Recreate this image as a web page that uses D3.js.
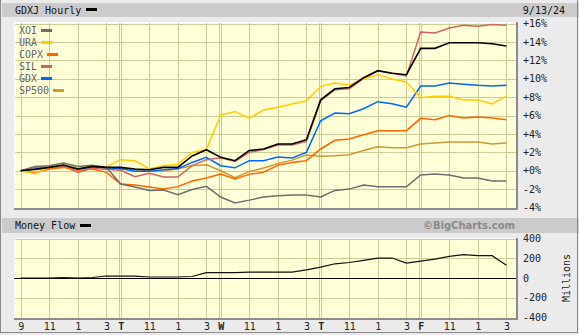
<!DOCTYPE html>
<html>
<head>
<meta charset="utf-8">
<script src="https://cdn.jsdelivr.net/npm/d3@7"></script>
<style>
body { margin: 0; background: #ebebeb; }
svg { display: block; font-family: "DejaVu Sans Mono", monospace; }
.axis path { display: none; }
.axis text { font-family: "DejaVu Sans Mono", monospace; font-size: 10px; fill: #222; }
</style>
</head>
<body>
<div id="chart"></div>
<script>
// hourly bars, Mon 9am .. Fri 3pm (7 per day)
var dayLetters = ["M", "T", "W", "T", "F"];
var hourLabels = ["9", "10", "11", "12", "1", "2", "3"];

var seriesNames = ["XOI", "URA", "COPX", "SIL", "GDX", "SP500"];
var seriesColors = ["#6e6e6e", "#ffcc00", "#ff6600", "#cc6666", "#0066ff", "#cc9933"];

var xoi = [0, 0.47, 0.54, 0.83, 0.47, 0.58, 0.36, -1.45, -1.77, -2.14, -2.1, -2.62, -2.05, -1.7, -2.86, -3.5, -3.2, -2.86, -2.72, -2.65, -2.65, -2.86, -2.14, -2.0, -1.56, -1.74, -1.74, -1.74, -0.47, -0.36, -0.47, -0.8, -0.8, -1.12, -1.12];
var ura = [0, -0.33, 0.36, 0.62, 0.29, 0.54, 0.4, 1.2, 1.09, 0.2, 0.56, 0.68, 1.99, 2.32, 6.05, 6.43, 5.7, 6.6, 6.9, 7.25, 7.6, 9.17, 9.53, 9.3, 10.0, 10.43, 9.96, 9.64, 7.93, 8.08, 8.08, 7.68, 7.68, 7.25, 8.08];
var copx = [0, -0.25, 0.18, 0.36, 0.04, 0.18, -0.18, -1.45, -1.55, -1.78, -1.98, -1.73, -1.12, -0.8, -0.35, -0.9, -0.4, -0.16, 0.58, 0.9, 1.09, 2.36, 3.3, 3.44, 3.91, 4.35, 4.35, 4.35, 5.69, 5.54, 6.0, 5.72, 5.83, 5.72, 5.54];
var sil = [0, 0.36, 0.4, 0.5, -0.18, 0.29, 0.15, 0.04, -0.65, -0.28, -0.69, -0.69, 0.55, 1.2, 1.4, 1.0, 2.0, 2.3, 2.8, 2.8, 3.2, 7.6, 8.8, 8.9, 10.0, 10.85, 10.6, 10.3, 15.07, 14.96, 15.5, 15.8, 15.7, 15.9, 15.8];
var gdx = [0, 0.18, 0.36, 0.54, 0.1, 0.36, 0.3, 0.25, -0.05, -0.05, 0.1, 0.22, 0.9, 1.45, 0.54, 0.31, 1.09, 1.09, 1.49, 1.38, 1.99, 5.43, 6.27, 6.2, 6.74, 7.5, 7.28, 6.9, 9.2, 9.2, 9.53, 9.4, 9.28, 9.2, 9.3];
var sp500 = [0, 0.1, 0.3, 0.4, 0.2, 0.3, 0.2, 0.15, 0.1, -0.07, -0.02, 0.2, 0.54, 0.65, 0.0, -0.75, -0.1, 0.29, 0.76, 1.15, 1.7, 1.56, 1.63, 1.74, 2.2, 2.6, 2.5, 2.5, 2.9, 3.0, 3.12, 3.12, 3.12, 2.9, 3.0];
var gdxj = [0, 0.15, 0.36, 0.62, 0.18, 0.47, 0.36, 0.36, 0.18, 0.1, 0.36, 0.36, 1.6, 2.28, 1.45, 1.09, 2.2, 2.36, 2.9, 2.9, 3.37, 7.7, 8.9, 9.05, 10.1, 10.87, 10.6, 10.43, 13.3, 13.3, 13.9, 13.9, 13.9, 13.8, 13.55];

// money flow, millions
var moneyFlow = [0, 0, 0, 3, 0, 5, 20, 20, 18, 10, 10, 10, 15, 55, 55, 55, 60, 60, 60, 60, 82, 110, 144, 157, 178, 202, 202, 150, 171, 192, 219, 236, 226, 226, 130];

var pctTicks = [-4, -2, 0, 2, 4, 6, 8, 10, 12, 14, 16];
var mfTicks = [-400, -200, 0, 200, 400];

var seriesData = [xoi, ura, copx, sil, gdx, sp500];

var width = 579, height = 335;
var plotL = 14, plotR = 516;
var mainTop = 22, mainBot = 208;
var mfTop = 238, mfBot = 318;
var gridColor = "#cccc99";

var bars = [];
dayLetters.forEach(function(d, di) {
  hourLabels.forEach(function(h) { bars.push(d + " " + h); });
});

var svg = d3.select("#chart").append("svg")
  .attr("width", width)
  .attr("height", height);

svg.append("rect").attr("width", width).attr("height", height).attr("fill", "#ebebeb");

var x = d3.scaleLinear().domain([0, bars.length - 1]).range([20.7, 506.4]);
var y = d3.scaleLinear().domain([-4, 16]).range([207.5, 23.5]);
var yMf = d3.scaleLinear().domain([-400, 400]).range([317.5, 238.5]);

// title bars
svg.append("rect").attr("x", 2).attr("y", 3).attr("width", width - 2).attr("height", 14).attr("fill", "#cbcbcb");
svg.append("rect").attr("x", 2).attr("y", 218).attr("width", width - 2).attr("height", 15).attr("fill", "#cbcbcb");

svg.append("text").attr("x", 15).attr("y", 10).attr("dy", "0.35em")
  .style("font-size", "10px").attr("fill", "#111").text("GDXJ Hourly");
svg.append("rect").attr("x", 86).attr("y", 8).attr("width", 11).attr("height", 3).attr("fill", "#000");
svg.append("text").attr("x", 565).attr("y", 10).attr("dy", "0.35em").attr("text-anchor", "end")
  .style("font-size", "10px").attr("fill", "#111").text("9/13/24");

svg.append("text").attr("x", 15).attr("y", 225.5).attr("dy", "0.35em")
  .style("font-size", "10px").attr("fill", "#111").text("Money Flow");
svg.append("rect").attr("x", 80).attr("y", 224).attr("width", 11).attr("height", 3).attr("fill", "#000");
svg.append("text").attr("x", 515).attr("y", 225.5).attr("dy", "0.35em").attr("text-anchor", "end")
  .style("font-family", "'DejaVu Sans', sans-serif").style("font-size", "10px").style("font-weight", "bold")
  .attr("fill", "#8a8a8a").text("\u00a9BigCharts.com");

// panels
function panel(top, bot, hTicks, yScale) {
  var g = svg.append("g");
  g.append("rect").attr("x", plotL).attr("y", top).attr("width", plotR - plotL).attr("height", bot - top)
    .attr("fill", "#ffffd8");
  hTicks.forEach(function(t) {
    var yy = Math.round(yScale(t)) + 0.5;
    g.append("line").attr("x1", plotL).attr("x2", plotR).attr("y1", yy).attr("y2", yy)
      .attr("stroke", gridColor).attr("stroke-width", 1);
  });
  bars.forEach(function(b, i) {
    var h = i % 7;
    if (h % 2 !== 0) return;
    var xx = Math.round(x(i));
    var xs = (i > 0 && h === 0) ? [xx - 2, xx] : [xx];
    xs.forEach(function(p) {
      g.append("line").attr("x1", p + 0.5).attr("x2", p + 0.5).attr("y1", top).attr("y2", bot)
        .attr("stroke", gridColor).attr("stroke-width", 1);
    });
  });
  // frame
  g.append("line").attr("x1", plotL).attr("x2", plotR).attr("y1", top + 0.5).attr("y2", top + 0.5).attr("stroke", "#fff");
  g.append("line").attr("x1", plotL + 0.5).attr("x2", plotL + 0.5).attr("y1", top).attr("y2", bot).attr("stroke", "#fff");
  g.append("line").attr("x1", plotL).attr("x2", plotR + 2).attr("y1", bot + 1).attr("y2", bot + 1)
    .attr("stroke", "#8c8c8c").attr("stroke-width", 2);
  g.append("line").attr("x1", plotR + 1).attr("x2", plotR + 1).attr("y1", top).attr("y2", bot + 2)
    .attr("stroke", "#8c8c8c").attr("stroke-width", 2);
  return g;
}

panel(mainTop, mainBot, pctTicks, y);
var mfPanel = panel(mfTop, mfBot, mfTicks, yMf);

// price lines
var line = d3.line().x(function(d, i) { return x(i); }).y(function(d) { return y(d); });

svg.append("g").selectAll("path")
  .data(seriesData.slice().reverse())
  .enter().append("path")
  .attr("d", line)
  .attr("fill", "none")
  .attr("stroke", function(d) { return seriesColors[seriesData.indexOf(d)]; })
  .attr("stroke-width", 1.5);

svg.append("path").datum(gdxj)
  .attr("d", line).attr("fill", "none").attr("stroke", "#000").attr("stroke-width", 1.6);

// legend
var legend = svg.append("g");
seriesNames.forEach(function(name, k) {
  var ly = 30.5 + k * 12;
  legend.append("text").attr("x", 19).attr("y", ly).attr("dy", "0.35em")
    .style("font-size", "10px").attr("fill", "#666").text(name);
  legend.append("rect").attr("x", 19 + name.length * 6 + 4).attr("y", ly - 1.5).attr("width", 11).attr("height", 3)
    .attr("fill", seriesColors[k]);
});

// money flow
svg.append("line").attr("x1", plotL).attr("x2", plotR).attr("y1", Math.round(yMf(0)) + 0.5).attr("y2", Math.round(yMf(0)) + 0.5)
  .attr("stroke", "#000").attr("stroke-width", 1);
var mfLine = d3.line().x(function(d, i) { return x(i); }).y(function(d) { return yMf(d); });
svg.append("path").datum(moneyFlow).attr("d", mfLine).attr("fill", "none").attr("stroke", "#111").attr("stroke-width", 1.2);

// right axes
svg.append("g").attr("class", "axis").attr("transform", "translate(" + plotR + ",0)")
  .call(d3.axisRight(y).tickValues(pctTicks).tickSize(0).tickPadding(7)
    .tickFormat(function(d) { return (d < 0 ? "" : "+") + d + "%"; }));

svg.append("g").attr("class", "axis").attr("transform", "translate(" + plotR + ",0)")
  .call(d3.axisRight(yMf).tickValues(mfTicks).tickSize(0).tickPadding(7)
    .tickFormat(function(d) { return d; }));

svg.append("text").attr("transform", "translate(566,278) rotate(-90)")
  .attr("text-anchor", "middle").attr("dy", "0.35em")
  .style("font-size", "10px").attr("fill", "#222").text("Millions");

// bottom time axis
var tickIdx = [];
bars.forEach(function(b, i) { if ((i % 7) % 2 === 0) tickIdx.push(i); });
var bottomAxis = svg.append("g").attr("class", "axis").attr("transform", "translate(0," + (mfBot + 2) + ")")
  .call(d3.axisBottom(x).tickValues(tickIdx).tickSize(0).tickPadding(3)
    .tickFormat(function(i) {
      var h = i % 7, d = Math.floor(i / 7);
      if (h === 0 && d > 0) return dayLetters[d];
      return hourLabels[h];
    }));
bottomAxis.selectAll("text")
  .style("font-weight", function(i) { return (i % 7 === 0 && i > 0) ? "bold" : "normal"; });

// outer border
svg.append("line").attr("x1", 0.5).attr("x2", 0.5).attr("y1", 0).attr("y2", 333).attr("stroke", "#888");
svg.append("line").attr("x1", 577.5).attr("x2", 577.5).attr("y1", 0).attr("y2", 333).attr("stroke", "#888");
svg.append("line").attr("x1", 0).attr("x2", 578).attr("y1", 332.5).attr("y2", 332.5).attr("stroke", "#888");
</script>
</body>
</html>
